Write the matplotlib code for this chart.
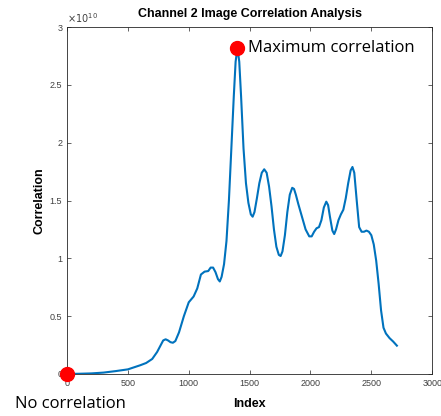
import matplotlib.pyplot as plt
import numpy as np

# correlation curve (index vs correlation, in units of 1e10)
index = [0, 100, 200, 300, 400, 500, 600, 650, 700, 740, 770, 790, 810, 830,
         850, 870, 890, 920, 960, 1000, 1040, 1070, 1100, 1130, 1160, 1180,
         1200, 1220, 1240, 1255, 1270, 1290, 1310, 1330, 1350, 1370, 1385,
         1400, 1415, 1430, 1450, 1470, 1490, 1510, 1525, 1540, 1560, 1580,
         1600, 1620, 1640, 1660, 1680, 1700, 1720, 1740, 1755, 1770, 1790,
         1810, 1830, 1850, 1865, 1880, 1900, 1930, 1960, 1990, 2010, 2030,
         2050, 2070, 2090, 2110, 2130, 2145, 2160, 2180, 2195, 2210, 2230,
         2250, 2270, 2290, 2310, 2330, 2345, 2360, 2380, 2400, 2420, 2440,
         2460, 2480, 2500, 2520, 2540, 2560, 2580, 2600, 2620, 2650, 2680,
         2710]
corr = [0, 0.002, 0.005, 0.012, 0.025, 0.04, 0.075, 0.095, 0.13, 0.19, 0.25,
        0.29, 0.30, 0.29, 0.275, 0.27, 0.285, 0.36, 0.50, 0.62, 0.67, 0.74,
        0.86, 0.885, 0.89, 0.92, 0.92, 0.88, 0.82, 0.80, 0.84, 0.95, 1.15,
        1.5, 1.95, 2.4, 2.7, 2.82, 2.7, 2.4, 1.95, 1.65, 1.48, 1.38, 1.36,
        1.40, 1.52, 1.65, 1.74, 1.77, 1.74, 1.62, 1.45, 1.25, 1.10, 1.03,
        1.02, 1.06, 1.20, 1.40, 1.55, 1.61, 1.60, 1.55, 1.47, 1.36, 1.25,
        1.19, 1.19, 1.23, 1.26, 1.27, 1.33, 1.44, 1.49, 1.46, 1.36, 1.24,
        1.21, 1.25, 1.33, 1.38, 1.42, 1.52, 1.65, 1.76, 1.79, 1.74, 1.50,
        1.27, 1.23, 1.23, 1.24, 1.23, 1.20, 1.12, 0.98, 0.78, 0.55, 0.40,
        0.35, 0.31, 0.28, 0.245]
corr = np.array(corr) * 1e10

xticks = [0, 500, 1000, 1500, 2000, 2500, 3000]
yticks = [0, 0.5e10, 1e10, 1.5e10, 2e10, 2.5e10, 3e10]
ylabels = ['0', '0.5', '1', '1.5', '2', '2.5', '3']

plt.rcParams['font.family'] = 'Liberation Sans'

fig = plt.figure(figsize=(4.41, 4.16), dpi=100)
ax = fig.add_axes([0.152, 0.101, 0.828, 0.834])

ax.plot(index, corr, color='#0072BD', linewidth=1.5)

# red markers at the two ends of interest
imax = int(np.argmax(corr))
ax.plot(index[imax], corr[imax], 'o', color='red', markersize=10, clip_on=False, zorder=5)
ax.plot(index[0], corr[0], 'o', color='red', markersize=10, clip_on=False, zorder=5)
ax.text(index[imax] + 90, corr[imax], 'Maximum correlation', fontsize=12,
        family='Open Sans', va='center', ha='left')
fig.text(0.035, 0.03, 'No correlation', fontsize=12, family='Open Sans',
         va='center', ha='left')

ax.set_xlim(0, 3000)
ax.set_ylim(0, 3e10)
ax.set_xticks(xticks)
ax.set_xticklabels([str(t) for t in xticks])
ax.set_yticks(yticks)
ax.set_yticklabels(ylabels)
ax.tick_params(direction='in', top=True, right=True, labelsize=6.5,
               labelcolor='#404040', color='#262626', length=3, width=0.5)
for s in ax.spines.values():
    s.set_color('#262626')
    s.set_linewidth(0.6)

ax.text(0.0, 1.005, r'$\times10^{10}$', transform=ax.transAxes, fontsize=7,
        color='#404040', va='bottom', ha='left')

ax.set_title('Channel 2 Image Correlation Analysis', fontsize=9, fontweight='bold', pad=7)
ax.set_xlabel('Index', fontsize=9, fontweight='bold', labelpad=7)
ax.set_ylabel('Correlation', fontsize=9, fontweight='bold', labelpad=3)

fig.savefig('out.png', dpi=100)
